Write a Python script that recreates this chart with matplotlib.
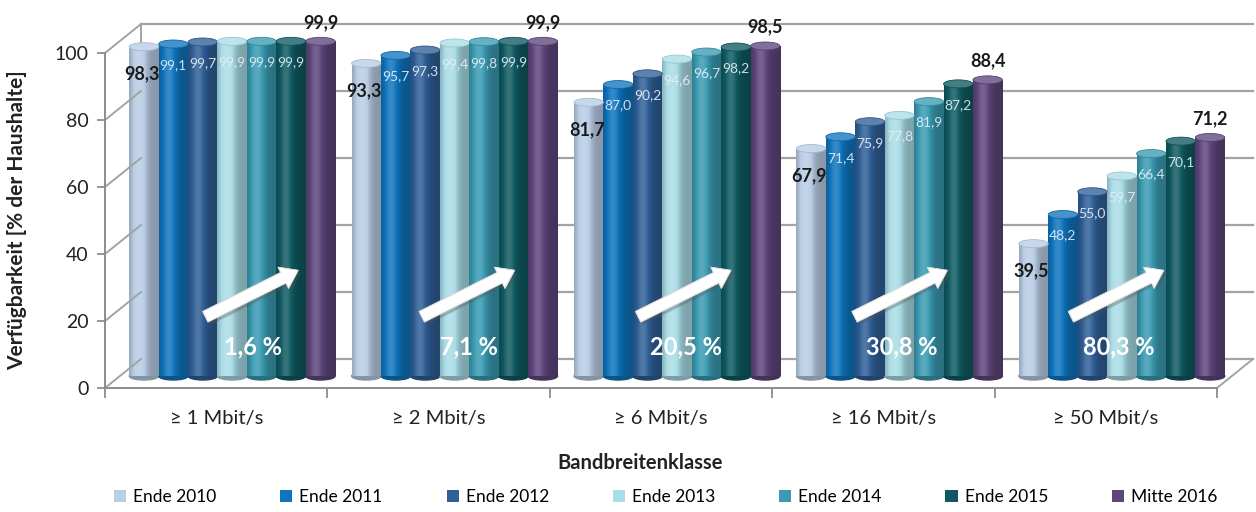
import numpy as np
import matplotlib
matplotlib.use("Agg")
import matplotlib.pyplot as plt
from matplotlib.patches import Ellipse, Patch, FancyArrowPatch
from matplotlib.colors import to_rgb
import matplotlib.patheffects as pe

plt.rcParams['font.family'] = ['Lato', 'DejaVu Sans']

# ---- data ----
categories = ["≥ 1 Mbit/s", "≥ 2 Mbit/s", "≥ 6 Mbit/s", "≥ 16 Mbit/s", "≥ 50 Mbit/s"]
series_names = ["Ende 2010", "Ende 2011", "Ende 2012", "Ende 2013",
                "Ende 2014", "Ende 2015", "Mitte 2016"]
ende_2010 = [98.3, 93.3, 81.7, 67.9, 39.5]
ende_2011 = [99.1, 95.7, 87.0, 71.4, 48.2]
ende_2012 = [99.7, 97.3, 90.2, 75.9, 55.0]
ende_2013 = [99.9, 99.4, 94.6, 77.8, 59.7]
ende_2014 = [99.9, 99.8, 96.7, 81.9, 66.4]
ende_2015 = [99.9, 99.9, 98.2, 87.2, 70.1]
mitte_2016 = [99.9, 99.9, 98.5, 88.4, 71.2]
growth = [1.6, 7.1, 20.5, 30.8, 80.3]
y_ticks = [0, 20, 40, 60, 80, 100]

series = [ende_2010, ende_2011, ende_2012, ende_2013, ende_2014, ende_2015, mitte_2016]
colors = ["#B9CDE5", "#0F74BD", "#2F5F96", "#A9DCE6", "#3A9AB1", "#0F5A61", "#5E467C"]

W, H = 1256, 512
fig = plt.figure(figsize=(W / 100, H / 100), dpi=100)
fig.patch.set_facecolor("white")


def axes_at(left, base, top, right, z):
    ax = fig.add_axes([left / W, (H - base) / H, (right - left) / W, (base - top) / H])
    ax.set_xlim(0, 5)
    ax.set_ylim(0, 100)
    ax.patch.set_visible(False)
    ax.set_zorder(z)
    return ax


back = axes_at(141, 359, 24, 1253, 1)   # back wall plane
mid = axes_at(121, 376, 41, 1233, 2)    # plane of the cylinders
front = axes_at(105, 388, 53, 1217, 3)  # front axis plane
back.set_axis_off()
mid.set_axis_off()

grid_c = "#a3a3a3"
# back wall gridlines, left back edge and floor back edge
for v in y_ticks:
    back.plot([0, 5], [v, v], color=grid_c, lw=1.6, clip_on=False)
back.plot([0, 0], [0, 100], color=grid_c, lw=1.4, clip_on=False)

# side wall lines joining front ticks to the back wall
dx_depth = 36 / 222.4
dy_depth = 29 / 3.35
for v in y_ticks:
    front.plot([0, dx_depth], [v, v + dy_depth], color=grid_c, lw=1.4, clip_on=False)
front.plot([5, 5 + dx_depth], [0, dy_depth], color=grid_c, lw=1.4, clip_on=False)

# front axes styling
for s in ["top", "right"]:
    front.spines[s].set_visible(False)
for s in ["left", "bottom"]:
    front.spines[s].set_color("#8c8c8c")
    front.spines[s].set_linewidth(1.4)
front.set_yticks(y_ticks)
front.set_yticklabels([str(t) for t in y_ticks], fontsize=14, color="#222222")
front.tick_params(axis="y", length=6, width=1.3, color="#8c8c8c", pad=6)
front.set_xticks(np.arange(0, 6))
front.set_xticklabels([])
front.tick_params(axis="x", which="major", length=7, width=1.3, color="#8c8c8c")
front.set_xticks(np.arange(5) + 0.5, minor=True)
front.set_xticklabels(categories, minor=True, fontsize=14.5, color="#222222")
front.tick_params(axis="x", which="minor", length=0, pad=16)

fig.text(17 / W, 1 - 220 / H, "Verfügbarkeit [% der Haushalte]", rotation=90,
         ha="center", va="center", fontsize=15, fontweight="bold", color="#222222")
fig.text(640 / W, 1 - 463 / H, "Bandbreitenklasse", ha="center", va="center",
         fontsize=14.5, fontweight="bold", color="#222222")


def shade(c, m):
    c = np.array(to_rgb(c))
    if m >= 1:
        return c + (1 - c) * (m - 1)
    return c * m


def body_gradient(c, n=64):
    t = np.linspace(0, 1, n)
    m = 0.74 + 0.42 * np.exp(-((t - 0.33) / 0.26) ** 2)
    return np.array([[shade(c, mi) for mi in m]])


# cylinders
n_ser = len(series)
group_w = 0.926
bw = group_w / n_ser
cap_h = 2.4
for j, (vals, col) in enumerate(zip(series, colors)):
    xs = np.arange(5) + 0.5 + (j - (n_ser - 1) / 2) * bw
    bars = mid.bar(xs, vals, width=bw, color=col, linewidth=0, zorder=3)
    grad = body_gradient(col)
    for rect, x, v in zip(bars, xs, vals):
        mid.add_patch(Ellipse((x, 0), bw, cap_h, color=shade(col, 0.72), zorder=2,
                              clip_on=False))
        im = mid.imshow(grad, extent=[x - bw / 2, x + bw / 2, 0, v], aspect="auto",
                        zorder=4, interpolation="bilinear")
        im.set_clip_path(rect)
        mid.add_patch(Ellipse((x, v), bw, cap_h, facecolor=shade(col, 1.22),
                              edgecolor=shade(col, 0.9), lw=0.6, zorder=5, clip_on=False))
    # value labels
    for x, v in zip(xs, vals):
        txt = f"{v:.1f}".replace(".", ",")
        if j == 0:
            mid.annotate(txt, (x, v), xytext=(-2, -27), textcoords="offset pixels",
                         ha="center", va="center", fontsize=13, fontweight="bold",
                         color="#1a1a1a", zorder=8, annotation_clip=False)
        elif j == n_ser - 1:
            mid.annotate(txt, (x, v), xytext=(0, 19), textcoords="offset pixels",
                         ha="center", va="center", fontsize=13, fontweight="bold",
                         color="#1a1a1a", zorder=8, annotation_clip=False)
        else:
            mid.annotate(txt, (x, v), xytext=(0, -21), textcoords="offset pixels",
                         ha="center", va="center", fontsize=10, color="#e4f0f8",
                         alpha=0.9, zorder=8, annotation_clip=False)
mid.set_xlim(0, 5)
mid.set_ylim(0, 100)

# growth arrows with percentages
for i, g in enumerate(growth):
    x0 = 0.44 + 0.973 * i
    arr = FancyArrowPatch((x0, 20.9), (x0 + 0.44, 35.5),
                          arrowstyle="simple,head_width=17,head_length=12,tail_width=8.5",
                          mutation_scale=1, facecolor="white", edgecolor="#d8d8d8",
                          lw=0.6, zorder=10, clip_on=False,
                          path_effects=[pe.withSimplePatchShadow(offset=(2, -2),
                                                                 shadow_rgbFace="#555555",
                                                                 alpha=0.35),
                                        pe.Normal()])
    front.add_patch(arr)
    front.text(x0 + 0.225, 12.2, f"{g:.1f} %".replace(".", ","), ha="center", va="center",
               fontsize=17, fontweight="bold", color="white", zorder=11)

handles = [Patch(facecolor=c, edgecolor="none") for c in colors]
fig.legend(handles, series_names, loc="center", bbox_to_anchor=(0.530, 1 - 497 / H),
           ncol=7, frameon=False, fontsize=12.5, handlelength=0.7, handleheight=0.7,
           handletextpad=0.4, columnspacing=3.68)

fig.savefig("out.png", dpi=100, facecolor="white")
